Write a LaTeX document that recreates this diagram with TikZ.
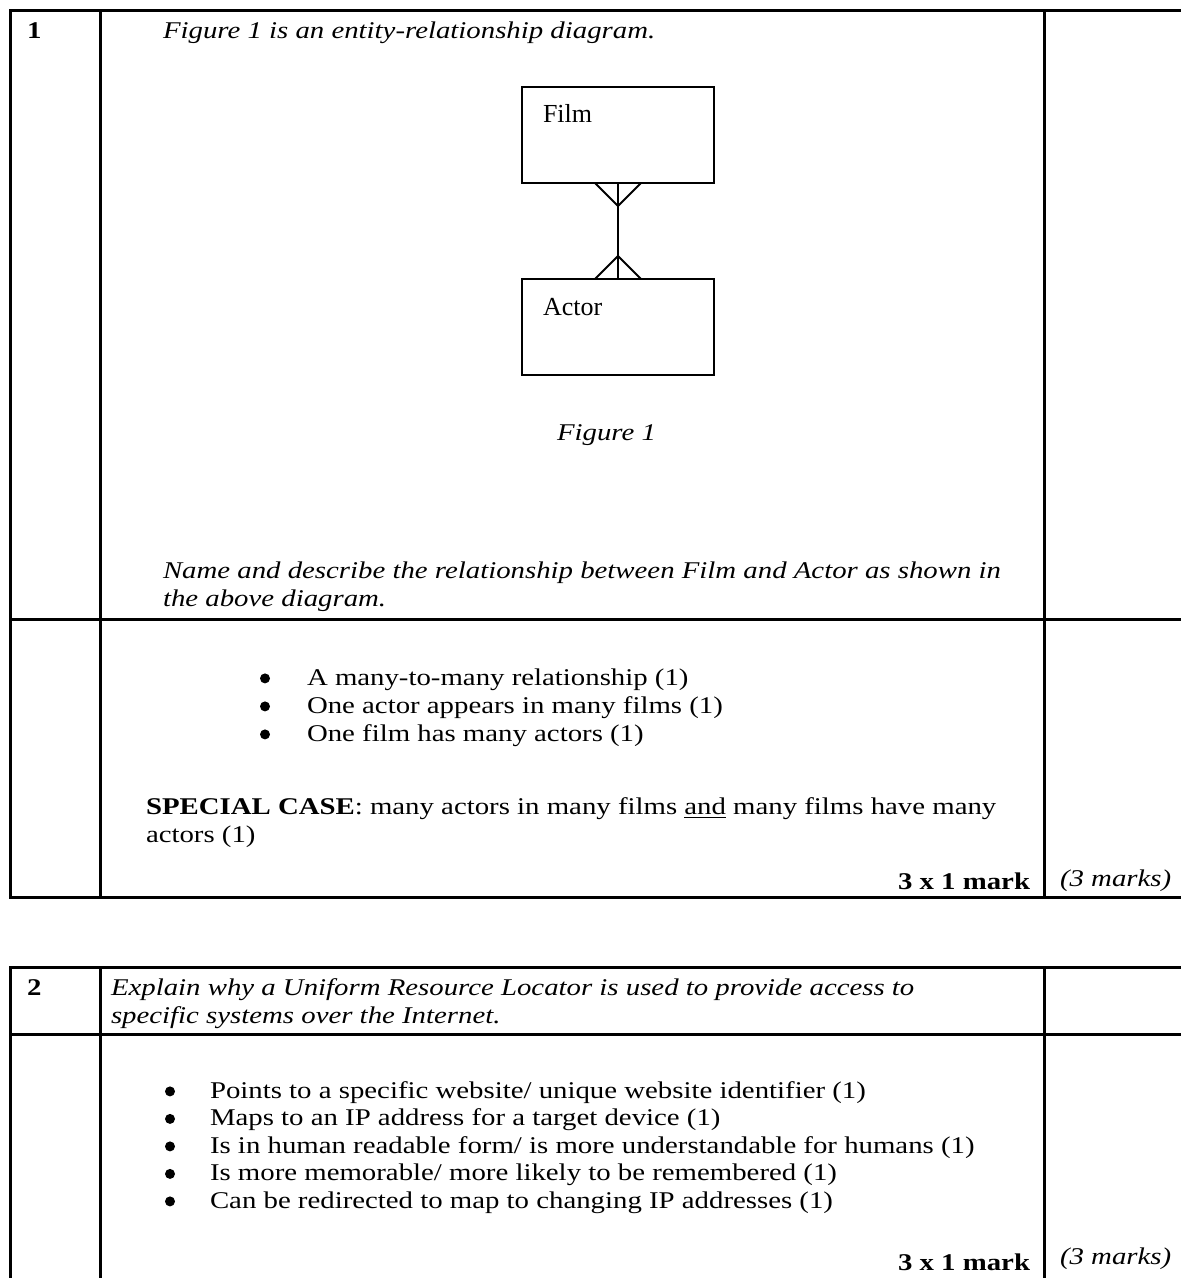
\documentclass[tikz,border=0pt]{standalone}
\usepackage{fontspec}
\setmainfont{Liberation Serif}[FakeStretch=1.2]
\newfontfamily\boxfont{Liberation Serif}
\usepackage{tikz}
\usetikzlibrary{positioning}

\begin{document}
\begin{tikzpicture} [x = 0.5pt, y = -0.5pt,
          every node/.style = {inner sep = 0pt, outer sep = 0pt},
          txt/.style = {anchor = base west, font = \fontsize{12}{14}\selectfont},
          itxt/.style = {txt, font = \fontsize{12}{14}\selectfont\itshape},
          num/.style = {txt, font = \fontsize{12}{14}\selectfont\bfseries},
          marks/.style = {anchor = base east, font = \fontsize{12}{14}\selectfont\bfseries},
          entity/.style = {draw, line width = 1pt, minimum width = 96pt, minimum height = 48pt},
          ename/.style = {anchor = base west, font = \boxfont\fontsize{13}{15}\selectfont},
          rule/.style = {line width = 1.5pt},
          link/.style = {line width = 1pt}
          ]

          \clip (0,0) rectangle (1181,1278);

          % Table 1
          \draw [rule] (10,11) rectangle (1200,897);
          \draw [rule] (100,11) -- (100,897);
          \draw [rule] (1044,11) -- (1044,897);
          \draw [rule] (10,619) -- (1200,619);

          % Question 1
          \node (n1) [num] at (27,39) {1};
          \node (q1) [itxt] at (163,39) {Figure 1 is an entity-relationship diagram.};

          % Entities
          \node (film) [entity] at (618,135) {};
          \node (actor) [entity, below = 48pt of film] {};
          \node (filmname) [ename] at (543,123) {Film};
          \node (actorname) [ename] at (543,316) {Actor};
          \node (fig1) [itxt] at (557,440) {Figure 1};

          % Relationship
          \path [link]
            (film) edge (actor);
          \draw [link] ([xshift=-11.5pt]film.south) -- ([yshift=-11.5pt]film.south) -- ([xshift=11.5pt]film.south);
          \draw [link] ([xshift=-11.5pt]actor.north) -- ([yshift=11.5pt]actor.north) -- ([xshift=11.5pt]actor.north);

          \node (ask1a) [itxt] at (163,578) {Name and describe the relationship between Film and Actor as shown in};
          \node (ask1b) [itxt] at ([yshift=-14pt]ask1a.base west) {the above diagram.};

          % Answer 1
          \node (a11) [txt] at (307,685) {A many-to-many relationship (1)};
          \node (a12) [txt] at ([yshift=-14pt]a11.base west) {One actor appears in many films (1)};
          \node (a13) [txt] at ([yshift=-14pt]a12.base west) {One film has many actors (1)};
          \fill ([xshift=-21pt,yshift=3.3pt]a11.base west) circle (2.5pt);
          \fill ([xshift=-21pt,yshift=3.3pt]a12.base west) circle (2.5pt);
          \fill ([xshift=-21pt,yshift=3.3pt]a13.base west) circle (2.5pt);
          \node (sc1) [txt] at (146,814) {\textbf{SPECIAL CASE}: many actors in many films \underline{and} many films have many};
          \node (sc2) [txt] at ([yshift=-14pt]sc1.base west) {actors (1)};
          \node (m1) [marks] at (1030,889) {3 x 1 mark};
          \node (t1) [itxt] at (1060,886) {(3 marks)};

          % Table 2
          \draw [rule] (10,1300) -- (10,967) -- (1200,967);
          \draw [rule] (100,967) -- (100,1300);
          \draw [rule] (1044,967) -- (1044,1300);
          \draw [rule] (10,1034) -- (1200,1034);

          % Question 2
          \node (n2) [num] at (27,995) {2};
          \node (q2a) [itxt] at (111,995) {Explain why a Uniform Resource Locator is used to provide access to};
          \node (q2b) [itxt] at ([yshift=-14pt]q2a.base west) {specific systems over the Internet.};

          % Answer 2
          \node (a21) [txt] at (210,1098) {Points to a specific website/ unique website identifier (1)};
          \node (a22) [txt] at ([yshift=-13.75pt]a21.base west) {Maps to an IP address for a target device (1)};
          \node (a23) [txt] at ([yshift=-13.75pt]a22.base west) {Is in human readable form/ is more understandable for humans (1)};
          \node (a24) [txt] at ([yshift=-13.75pt]a23.base west) {Is more memorable/ more likely to be remembered (1)};
          \node (a25) [txt] at ([yshift=-13.75pt]a24.base west) {Can be redirected to map to changing IP addresses (1)};
          \fill ([xshift=-20pt,yshift=3.3pt]a21.base west) circle (2.5pt);
          \fill ([xshift=-20pt,yshift=3.3pt]a22.base west) circle (2.5pt);
          \fill ([xshift=-20pt,yshift=3.3pt]a23.base west) circle (2.5pt);
          \fill ([xshift=-20pt,yshift=3.3pt]a24.base west) circle (2.5pt);
          \fill ([xshift=-20pt,yshift=3.3pt]a25.base west) circle (2.5pt);
          \node (m2) [marks] at (1030,1270) {3 x 1 mark};
          \node (t2) [itxt] at (1060,1264) {(3 marks)};

\end{tikzpicture}
\end{document}
